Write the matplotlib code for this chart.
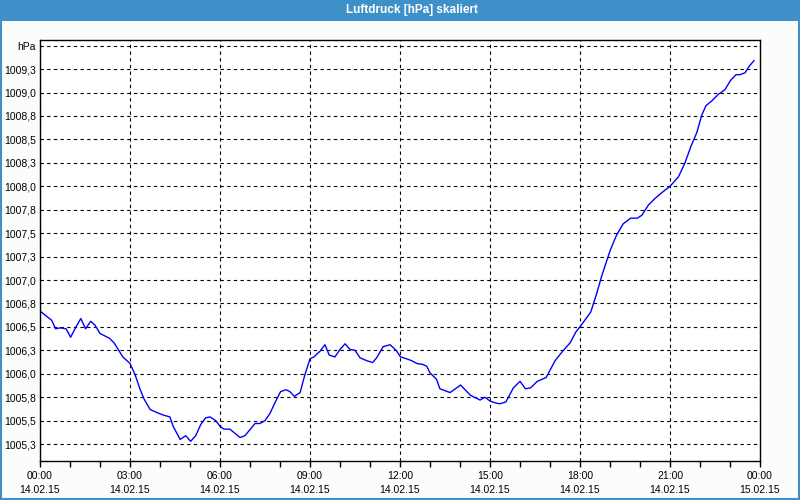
import matplotlib.pyplot as plt
from matplotlib.patches import Rectangle

plt.rcParams['font.family'] = ['Liberation Sans', 'DejaVu Sans']

# Zeit in Stunden ab 14.02.15 00:00 und Luftdruck in hPa
stunden = [0.00, 0.39, 0.52, 0.67, 0.87, 1.02, 1.20, 1.36, 1.52, 1.69, 1.83, 2.00,
           2.31, 2.47, 2.76, 3.00, 3.17, 3.33, 3.47, 3.67, 3.87, 4.11, 4.33, 4.44,
           4.67, 4.86, 5.02, 5.19, 5.36, 5.52, 5.67, 5.86, 6.00, 6.13, 6.33, 6.67,
           6.83, 7.17, 7.33, 7.50, 7.67, 7.83, 8.02, 8.20, 8.33, 8.48, 8.67, 8.83,
           9.00, 9.13, 9.33, 9.50, 9.64, 9.83, 10.00, 10.17, 10.33, 10.50, 10.67,
           10.89, 11.09, 11.22, 11.44, 11.67, 11.87, 12.02, 12.22, 12.39, 12.56,
           12.76, 12.89, 13.00, 13.22, 13.33, 13.67, 14.02, 14.35, 14.67, 14.83,
           15.00, 15.17, 15.33, 15.53, 15.78, 16.00, 16.18, 16.35, 16.58, 16.87,
           17.17, 17.42, 17.67, 17.87, 18.02, 18.36, 18.56, 18.72, 19.01, 19.22,
           19.44, 19.69, 19.91, 20.06, 20.28, 20.50, 20.72, 21.00, 21.28, 21.50,
           21.69, 21.89, 22.06, 22.20, 22.39, 22.61, 22.83, 23.02, 23.20, 23.33,
           23.50, 23.64, 23.80]
druck = [1006.67, 1006.57, 1006.48, 1006.49, 1006.48, 1006.39, 1006.50, 1006.59,
         1006.48, 1006.56, 1006.52, 1006.43, 1006.38, 1006.33, 1006.18, 1006.11,
         1005.99, 1005.84, 1005.73, 1005.62, 1005.59, 1005.56, 1005.54, 1005.44,
         1005.30, 1005.34, 1005.28, 1005.34, 1005.46, 1005.53, 1005.54, 1005.50,
         1005.44, 1005.41, 1005.41, 1005.32, 1005.34, 1005.47, 1005.47, 1005.50,
         1005.58, 1005.69, 1005.81, 1005.83, 1005.81, 1005.76, 1005.80, 1005.99,
         1006.16, 1006.18, 1006.24, 1006.31, 1006.20, 1006.18, 1006.26, 1006.32,
         1006.26, 1006.25, 1006.17, 1006.14, 1006.12, 1006.17, 1006.29, 1006.31,
         1006.25, 1006.18, 1006.16, 1006.14, 1006.11, 1006.10, 1006.08, 1006.01,
         1005.94, 1005.84, 1005.80, 1005.88, 1005.77, 1005.72, 1005.75, 1005.71,
         1005.69, 1005.68, 1005.70, 1005.85, 1005.92, 1005.84, 1005.85, 1005.92,
         1005.96, 1006.14, 1006.24, 1006.33, 1006.45, 1006.51, 1006.66, 1006.86,
         1007.04, 1007.32, 1007.48, 1007.60, 1007.66, 1007.66, 1007.69, 1007.80,
         1007.87, 1007.93, 1008.00, 1008.10, 1008.25, 1008.42, 1008.57, 1008.76,
         1008.86, 1008.91, 1008.98, 1009.03, 1009.13, 1009.19, 1009.19, 1009.21,
         1009.28, 1009.34]

y_ticks = [1005.25, 1005.5, 1005.75, 1006.0, 1006.25, 1006.5, 1006.75, 1007.0,
           1007.25, 1007.5, 1007.75, 1008.0, 1008.25, 1008.5, 1008.75, 1009.0,
           1009.25, 1009.5]
y_labels = ["1005,3", "1005,5", "1005,8", "1006,0", "1006,3", "1006,5", "1006,8",
            "1007,0", "1007,3", "1007,5", "1007,8", "1008,0", "1008,3", "1008,5",
            "1008,8", "1009,0", "1009,3", "hPa"]
x_ticks = [0, 3, 6, 9, 12, 15, 18, 21, 24]
x_labels = ["00:00\n14.02.15", "03:00\n14.02.15", "06:00\n14.02.15",
            "09:00\n14.02.15", "12:00\n14.02.15", "15:00\n14.02.15",
            "18:00\n14.02.15", "21:00\n14.02.15", "00:00\n15.02.15"]

blau = "#3d91c8"

fig = plt.figure(figsize=(8, 5), dpi=100, facecolor="#fbfdfb")
ax = fig.add_axes([0.05, 0.078, 0.9, 0.842])

# Titelleiste und Rahmen
fig.patches.append(Rectangle((0, 0.959), 1, 0.041, transform=fig.transFigure,
                             facecolor=blau, edgecolor="none", zorder=0))
fig.patches.append(Rectangle((0.001, 0.002), 0.998, 0.996, transform=fig.transFigure,
                             facecolor="none", edgecolor=blau, linewidth=1.5, zorder=1))
fig.text(0.515, 0.979, "Luftdruck [hPa] skaliert", color="white", fontsize=8.5,
         fontweight="bold", ha="center", va="center")

ax.plot(stunden, druck, color="#0000ff", linewidth=1)

ax.set_xlim(0, 24)
ax.set_ylim(1005.07, 1009.56)
ax.set_yticks(y_ticks)
ax.set_yticklabels(y_labels)
ax.set_xticks(x_ticks)
ax.set_xticklabels(x_labels)
ax.set_xticks(range(25), minor=True)

ax.tick_params(axis="y", length=0, pad=3, labelsize=7.5, colors="black")
ax.tick_params(axis="x", which="both", direction="out", length=4, width=1,
               pad=3.5, labelsize=7.5)
for lab in ax.get_xticklabels():
    lab.set_linespacing(1.45)

ax.grid(True, color="black", linestyle=(0, (3, 3)), linewidth=0.8)
for s in ax.spines.values():
    s.set_linewidth(1)
    s.set_color("black")

plt.savefig("out.png", dpi=100, facecolor=fig.get_facecolor())
